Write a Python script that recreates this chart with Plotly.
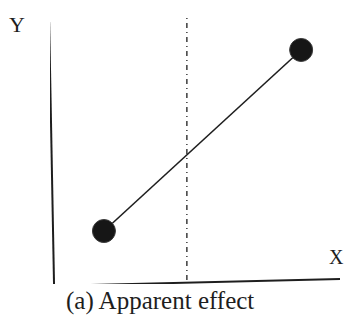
import plotly.graph_objects as go

# Two observations joined by a line
obs_x = [1.86, 8.66]
obs_y = [1.97, 8.70]

# Threshold / cut-off position on the X axis
cutoff_x = 4.72

axis_labels = ["X", "Y"]
caption = "(a) Apparent effect"

ink = "#1e1e1e"

fig = go.Figure()

fig.add_trace(go.Scatter(
    x=obs_x, y=obs_y, mode="lines",
    line=dict(color=ink, width=1.6),
    hoverinfo="skip", showlegend=False,
))
fig.add_trace(go.Scatter(
    x=obs_x, y=obs_y, mode="markers",
    marker=dict(size=23, color="#161616",
                line=dict(color="#3a3a3a", width=1)),
    cliponaxis=False, hoverinfo="skip", showlegend=False,
))

shapes = [
    # vertical cut-off line
    dict(type="line", xref="x", yref="y", x0=cutoff_x, x1=cutoff_x,
         y0=0.15, y1=10.0,
         line=dict(color=ink, width=1.3, dash="5px,4px,1px,4px")),
    # Y axis (hand-drawn, slightly leaning)
    dict(type="line", xref="x", yref="y", x0=-0.03, x1=0.14,
         y0=9.74, y1=-0.07,
         line=dict(color=ink, width=2)),
    # X axis
    dict(type="line", xref="x", yref="y", x0=0.14, x1=10.1,
         y0=-0.07, y1=0.19,
         line=dict(color=ink, width=2)),
]

annotations = [
    dict(text=axis_labels[1], xref="paper", yref="paper", x=-0.114, y=0.963,
         xanchor="center", yanchor="middle", showarrow=False,
         font=dict(family="Liberation Serif", size=22, color=ink)),
    dict(text=axis_labels[0], xref="paper", yref="paper", x=1.017, y=0.1,
         xanchor="right", yanchor="middle", showarrow=False, borderpad=0,
         font=dict(family="Liberation Serif", size=20, color=ink)),
    dict(text=caption, xref="paper", yref="paper", x=0.38, y=-0.004,
         xanchor="center", yanchor="top", showarrow=False,
         font=dict(family="Liberation Serif", size=25, color=ink)),
]

fig.update_layout(
    width=346, height=328,
    margin=dict(l=50, r=6, t=15, b=44),
    paper_bgcolor="white", plot_bgcolor="white",
    xaxis=dict(range=[0, 10], visible=False, fixedrange=True),
    yaxis=dict(range=[0, 10], visible=False, fixedrange=True),
    shapes=shapes, annotations=annotations,
    showlegend=False,
)

fig.write_html("out.html")
